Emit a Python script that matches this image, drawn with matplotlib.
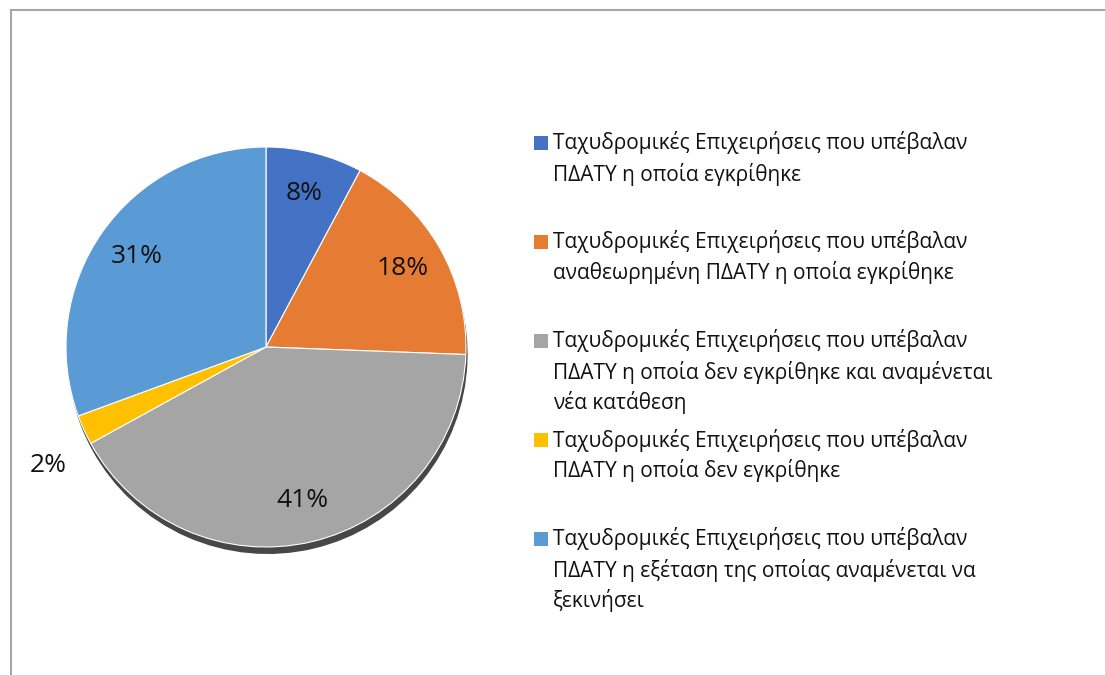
import matplotlib
matplotlib.use("Agg")
import matplotlib.pyplot as plt
from matplotlib.patches import Rectangle
from matplotlib.lines import Line2D
import numpy as np

plt.rcParams['font.family'] = ['Open Sans', 'DejaVu Sans']

categories = [
    "Ταχυδρομικές Επιχειρήσεις που υπέβαλαν\nΠΔΑΤΥ η οποία εγκρίθηκε",
    "Ταχυδρομικές Επιχειρήσεις που υπέβαλαν\nαναθεωρημένη ΠΔΑΤΥ η οποία εγκρίθηκε",
    "Ταχυδρομικές Επιχειρήσεις που υπέβαλαν\nΠΔΑΤΥ η οποία δεν εγκρίθηκε και αναμένεται\nνέα κατάθεση",
    "Ταχυδρομικές Επιχειρήσεις που υπέβαλαν\nΠΔΑΤΥ η οποία δεν εγκρίθηκε",
    "Ταχυδρομικές Επιχειρήσεις που υπέβαλαν\nΠΔΑΤΥ η εξέταση της οποίας αναμένεται να\nξεκινήσει",
]
values = [7.8, 17.8, 41.4, 2.4, 30.6]
pct_labels = ["8%", "18%", "41%", "2%", "31%"]
colors = ["#4472C4", "#E67C33", "#A5A5A5", "#FFC000", "#5B9BD5"]

W, H = 1105, 675
fig = plt.figure(figsize=(W / 100, H / 100), dpi=100)
fig.patch.set_facecolor("white")

# chart border (top and left visible)
fig.add_artist(Line2D([11 / W, 1.0], [1 - 10 / H, 1 - 10 / H], color="#A6A6A6", lw=1.5, transform=fig.transFigure))
fig.add_artist(Line2D([11 / W, 11 / W], [0, 1 - 10 / H], color="#A6A6A6", lw=1.5, transform=fig.transFigure))

# pie axes: center (266, 347) px, radius 200 px
cx, cy, R = 266, H - 347, 200
half = 1.3 * R
ax = fig.add_axes([(cx - half) / W, (cy - half) / H, 2 * half / W, 2 * half / H])

# shadow
ax.pie(values, colors=["#474747"] * len(values), startangle=90, counterclock=False,
       radius=1.0, center=(0.008, -0.035), wedgeprops=dict(linewidth=0))
wedges, _ = ax.pie(values, colors=colors, startangle=90, counterclock=False,
                   radius=1.0, wedgeprops=dict(linewidth=0.8, edgecolor="white"))
ax.set_xlim(-1.3, 1.3)
ax.set_ylim(-1.3, 1.3)
ax.set_aspect("equal")
ax.axis("off")

total = sum(values)
cum = 0
for i, v in enumerate(values):
    mid = (cum + v / 2) / total * 360
    cum += v
    if v < 5:
        d, mid = 1.24, mid - 4
    else:
        d = 0.79
    ang = np.deg2rad(90 - mid)
    ax.text(d * np.cos(ang), d * np.sin(ang), pct_labels[i], ha="center", va="center",
            fontsize=19, color="#111111")

# legend
x_sq, x_txt = 534, 553
y0, step, line_h = 143, 99, 31
for i, (lab, col) in enumerate(zip(categories, colors)):
    y = y0 + i * step
    fig.add_artist(Rectangle((x_sq / W, 1 - (y + 7) / H), 14 / W, 14 / H, facecolor=col,
                             edgecolor="none", transform=fig.transFigure))
    for j, ln in enumerate(lab.split("\n")):
        fig.text(x_txt / W, 1 - (y + j * line_h) / H, ln, ha="left", va="center",
                 fontsize=15, color="#111111")

fig.savefig("out.png", dpi=100, facecolor="white")
